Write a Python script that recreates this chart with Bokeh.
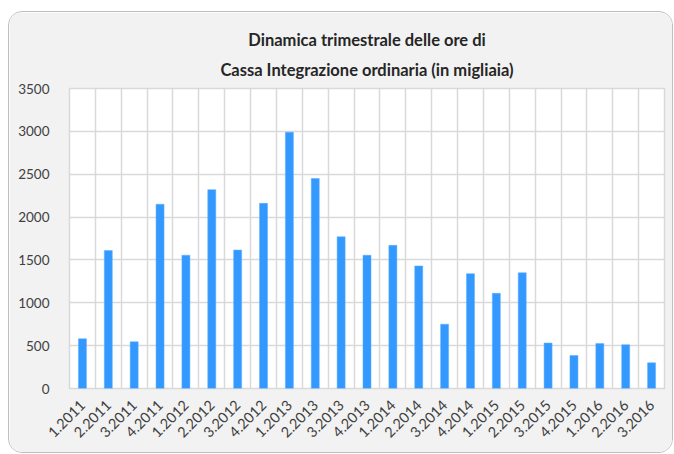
import math
from bokeh.plotting import figure
from bokeh.models import ColumnDataSource, FixedTicker, Title, Range1d
from bokeh.embed import file_html
from bokeh.resources import INLINE

quarters = ["1.2011", "2.2011", "3.2011", "4.2011",
            "1.2012", "2.2012", "3.2012", "4.2012",
            "1.2013", "2.2013", "3.2013", "4.2013",
            "1.2014", "2.2014", "3.2014", "4.2014",
            "1.2015", "2.2015", "3.2015", "4.2015",
            "1.2016", "2.2016", "3.2016"]
hours = [580, 1610, 545, 2150,
         1555, 2320, 1615, 2160,
         2990, 2450, 1770, 1555,
         1670, 1430, 750, 1340,
         1110, 1350, 530, 385,
         525, 510, 300]
y_ticks = [0, 500, 1000, 1500, 2000, 2500, 3000, 3500]
title_lines = ["Dinamica trimestrale delle ore di",
               "Cassa Integrazione ordinaria (in migliaia)"]

pos = [i + 0.5 for i in range(len(quarters))]
src = ColumnDataSource(dict(x=pos, top=hours, q=quarters))

FONT = "Lato"

p = figure(width=665, height=442, output_backend="svg", toolbar_location=None,
           x_range=Range1d(0, len(quarters)), y_range=Range1d(0, 3500),
           min_border_left=60, min_border_right=10, min_border_top=76,
           min_border_bottom=66)

p.background_fill_color = "white"
p.border_fill_color = "#f2f2f2"
p.outline_line_color = "#d9d9d9"
p.outline_line_width = 1.5
p.styles = {"border": "1px solid #bfbfbf", "border-radius": "14px",
            "overflow": "hidden", "margin-left": "8px", "margin-top": "11px"}

p.vbar(x="x", top="top", width=0.31, bottom=0, source=src,
       fill_color="#3399ff", line_color="#5aaeff", line_width=0.5)

# titles (inner line added first)
p.add_layout(Title(text=title_lines[1], align="center",
                   text_font=FONT, text_font_size="16.5px", text_font_style="bold",
                   text_color="#262626", text_line_height=1.0, standoff=17), "above")
p.add_layout(Title(text=title_lines[0], align="center",
                   text_font=FONT, text_font_size="16.5px", text_font_style="bold",
                   text_color="#262626", text_line_height=1.0, standoff=0), "above")

# y axis
p.yaxis.ticker = FixedTicker(ticks=y_ticks)
p.yaxis.axis_line_color = None
p.yaxis.major_tick_line_color = None
p.yaxis.minor_tick_line_color = None
p.yaxis.major_label_text_font = FONT
p.yaxis.major_label_text_font_size = "13.5px"
p.yaxis.major_label_text_color = "#404040"
p.yaxis.major_label_standoff = 14

# x axis
p.xaxis.ticker = FixedTicker(ticks=pos)
p.xaxis.major_label_overrides = {x: q for x, q in zip(pos, quarters)}
p.xaxis.major_label_orientation = math.pi / 4
p.xaxis.axis_line_color = None
p.xaxis.major_tick_line_color = None
p.xaxis.minor_tick_line_color = None
p.xaxis.major_label_text_font = FONT
p.xaxis.major_label_text_font_size = "14.5px"
p.xaxis.major_label_text_color = "#404040"
p.xaxis.major_label_standoff = 8

# grids
p.ygrid.ticker = FixedTicker(ticks=y_ticks)
p.ygrid.grid_line_color = "#d9d9d9"
p.ygrid.grid_line_width = 1.5
p.xgrid.ticker = FixedTicker(ticks=list(range(len(quarters) + 1)))
p.xgrid.grid_line_color = "#d9d9d9"
p.xgrid.grid_line_width = 1.5

open("out.html", "w").write(file_html(p, INLINE))
